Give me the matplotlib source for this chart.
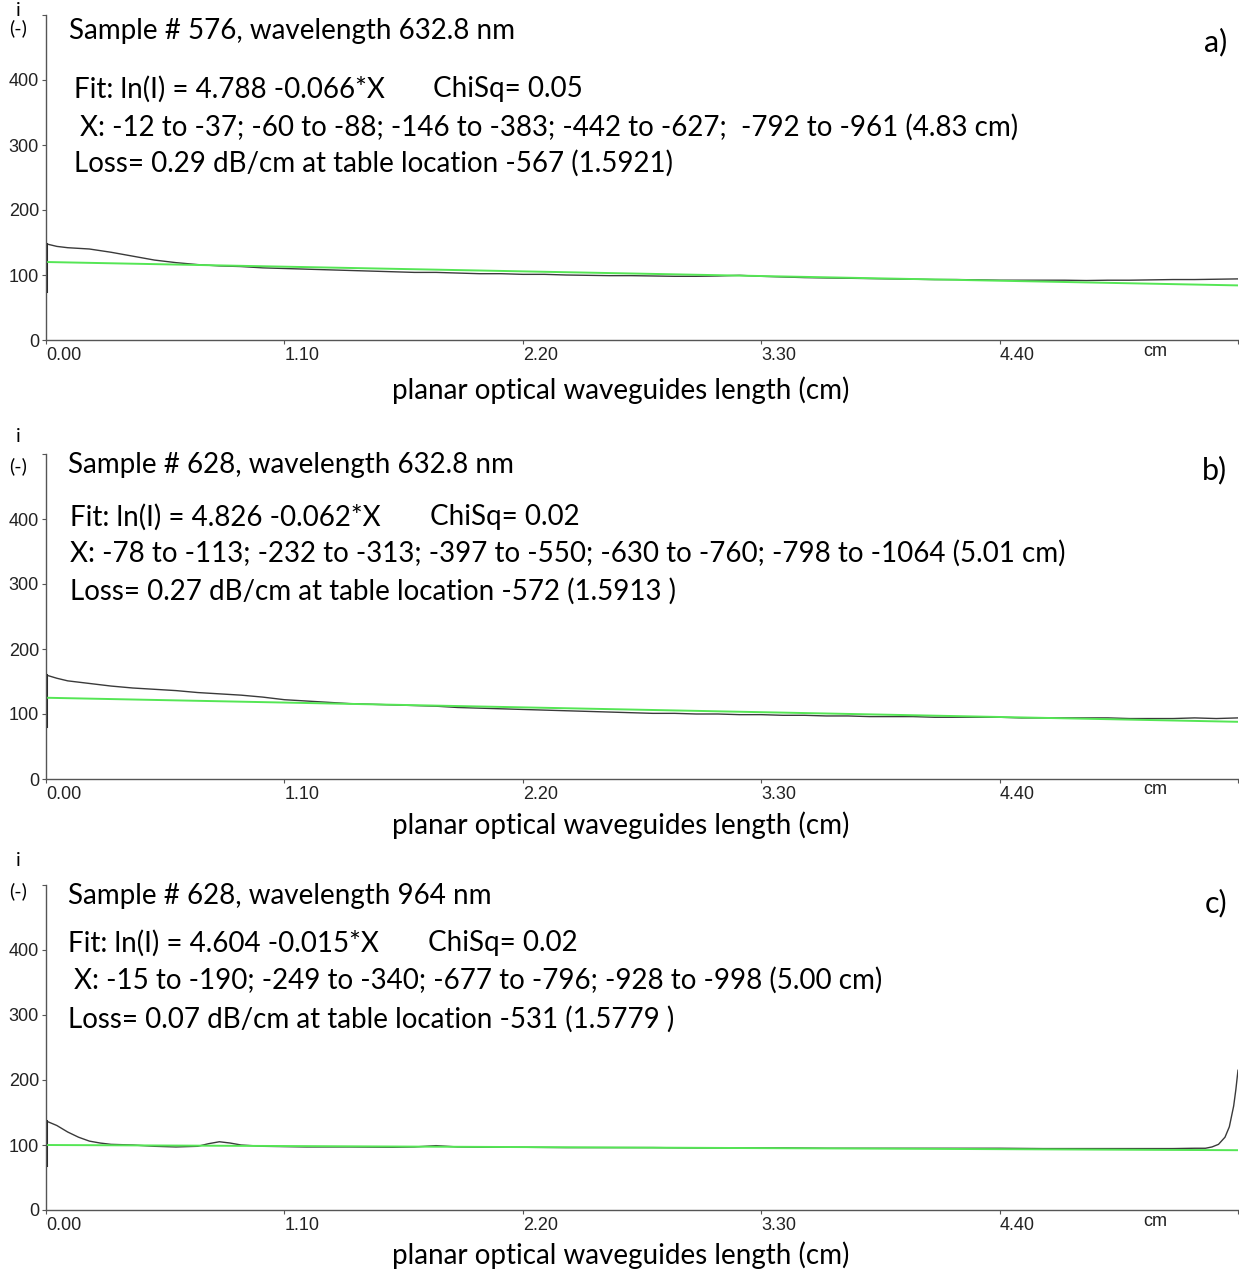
import numpy as np
import matplotlib.pyplot as plt

W, H = 1239, 1272

# x positions along the waveguide (cm) and measured intensity (black trace)
xa = [0, 0.05, 0.1, 0.2, 0.3, 0.4, 0.5, 0.6, 0.7, 0.8, 0.9, 1.0, 1.1, 1.2, 1.3, 1.4, 1.5, 1.6, 1.7, 1.8,
      1.9, 2.0, 2.1, 2.2, 2.3, 2.4, 2.5, 2.6, 2.7, 2.8, 2.9, 3.0, 3.1, 3.2, 3.3, 3.4, 3.5, 3.6, 3.7, 3.8,
      3.9, 4.0, 4.1, 4.2, 4.3, 4.4, 4.5, 4.6, 4.7, 4.8, 4.9, 5.0, 5.1, 5.2, 5.3, 5.4, 5.5]
ya = [148, 144, 142, 140, 135, 129, 123, 119, 116, 114, 113, 111, 110, 109, 108, 107, 106, 105, 104, 104,
      103, 102, 102, 101, 101, 100, 99.5, 99, 99, 98.5, 98, 98, 98.5, 99.5, 98, 97, 96, 95.5, 95, 94.5,
      94, 93.5, 93, 93, 92.5, 92, 92, 92, 92, 91.5, 92, 92, 92.5, 93, 93, 93.5, 94]

xb = xa
yb = [160, 155, 151, 147, 143, 140, 138, 136, 133, 131, 129, 126, 122, 120, 118, 116, 115, 114, 113, 112,
      110, 109, 108, 107, 106, 105, 104, 103, 102, 101, 101, 100, 100, 99, 99, 98, 98, 97, 97, 96,
      96, 96, 95, 95, 95, 95, 94, 94, 94, 94, 94, 93, 93, 93, 94, 93, 94]

xc = [0, 0.05, 0.1, 0.15, 0.2, 0.25, 0.3, 0.4, 0.5, 0.6, 0.7, 0.75, 0.8, 0.85, 0.9, 1.0, 1.2, 1.4, 1.6, 1.7,
      1.8, 1.9, 2.0, 2.2, 2.4, 2.6, 2.8, 3.0, 3.2, 3.4, 3.6, 3.8, 4.0, 4.2, 4.4, 4.6, 4.8, 5.0, 5.2, 5.3,
      5.35, 5.38, 5.41, 5.44, 5.46, 5.48, 5.49, 5.5]
yc = [137, 130, 120, 112, 106, 103, 101, 100, 98, 97, 98, 102, 105, 103, 100, 98, 97, 97, 96.5, 97,
      99, 97, 96.5, 96.5, 96, 96, 96, 95.5, 95.5, 95.5, 95, 95, 95, 95, 95, 94.5, 94.5, 94.5, 94.5, 95,
      95, 97, 101, 112, 128, 160, 185, 215]

# low end of the vertical stroke at x = 0
start_low = [75, 82, 70]

# fit lines (green), values at both ends
fit_x = [0, 5.5]
fit_a = [120, 84]
fit_b = [125, 88]
fit_c = [100, 92]

xticks = [0, 1.1, 2.2, 3.3, 4.4, 5.5]
xticklabels = ['0.00', '1.10', '2.20', '3.30', '4.40', '']
yticks = [0, 100, 200, 300, 400, 500]
yticklabels = ['0', '100', '200', '300', '400', '']

titles = ['Sample # 576, wavelength 632.8 nm',
          'Sample # 628, wavelength 632.8 nm',
          'Sample # 628, wavelength 964 nm']
fits = ['Fit: ln(I) = 4.788 -0.066*X', 'Fit: ln(I) = 4.826 -0.062*X', 'Fit: ln(I) = 4.604 -0.015*X']
chisq = ['ChiSq= 0.05', 'ChiSq= 0.02', 'ChiSq= 0.02']
ranges = ['X: -12 to -37; -60 to -88; -146 to -383; -442 to -627;  -792 to -961 (4.83 cm)',
          'X: -78 to -113; -232 to -313; -397 to -550; -630 to -760; -798 to -1064 (5.01 cm)',
          'X: -15 to -190; -249 to -340; -677 to -796; -928 to -998 (5.00 cm)']
losses = ['Loss= 0.29 dB/cm at table location -567 (1.5921)',
          'Loss= 0.27 dB/cm at table location -572 (1.5913 )',
          'Loss= 0.07 dB/cm at table location -531 (1.5779 )']
panel_tags = ['a)', 'b)', 'c)']
xlabel = 'planar optical waveguides length (cm)'

series_x = [xa, xb, xc]
series_y = [ya, yb, yc]
series_fit = [fit_a, fit_b, fit_c]

# pixel layout of each panel (axis zero line, text rows)
bottom_px = [340, 779, 1210]
title_px = [(69, 31), (68, 465), (68, 896)]
fit_px = [(74, 89), (70, 517), (68, 943)]
chi_px = [433, 430, 428]
range_px = [(80, 127), (70, 553), (74, 980)]
loss_px = [(74, 163), (70, 591), (68, 1019)]
tag_py = [42, 470, 903]
xlab_py = [390, 825, 1255]
ilab_py = [(11, 28), (437, 466), (860, 891)]

txt_font = ['Lato', 'DejaVu Sans']
tick_font = 'Liberation Sans'
tsize = 20


def fx(px):
    return px / W


def fy(py):
    return 1 - py / H


fig = plt.figure(figsize=(W / 100, H / 100), dpi=100)

for k in range(3):
    b = bottom_px[k]
    ax = fig.add_axes([fx(46), fy(b), 1192 / W, 325 / H])
    ax.plot(series_x[k], series_y[k], color='#3a3a3a', lw=1.0)
    ax.plot([0, 0], [start_low[k], series_y[k][0]], color='#222222', lw=2.2)
    ax.plot(fit_x, series_fit[k], color='#55e655', lw=1.4)

    ax.set_xlim(0, 5.5)
    ax.set_ylim(0, 500)
    ax.set_xticks(xticks)
    ax.set_xticklabels(xticklabels, fontfamily=tick_font, fontsize=13)
    ax.set_yticks(yticks)
    ax.set_yticklabels(yticklabels, fontfamily=tick_font, fontsize=13)
    for lab in ax.get_xticklabels():
        lab.set_horizontalalignment('left')
    ax.tick_params(direction='out', length=3, width=0.8, color='#555555', labelcolor='#222222', pad=2)
    ax.spines['top'].set_visible(False)
    ax.spines['right'].set_visible(False)
    for s in ['left', 'bottom']:
        ax.spines[s].set_color('#555555')
        ax.spines[s].set_linewidth(1.0)

    fig.text(fx(1143), fy(b + 11), 'cm', fontfamily=tick_font, fontsize=13, color='#222222', va='center')
    fig.text(fx(18), fy(ilab_py[k][0]), 'i', family=txt_font, fontsize=14, ha='center', va='center')
    fig.text(fx(18), fy(ilab_py[k][1]), '(-)', family=txt_font, fontsize=14, ha='center', va='center')

    fig.text(fx(title_px[k][0]), fy(title_px[k][1]), titles[k], family=txt_font, fontsize=tsize, va='center')
    fig.text(fx(fit_px[k][0]), fy(fit_px[k][1]), fits[k], family=txt_font, fontsize=tsize, va='center')
    fig.text(fx(chi_px[k]), fy(fit_px[k][1]), chisq[k], family=txt_font, fontsize=tsize, va='center')
    fig.text(fx(range_px[k][0]), fy(range_px[k][1]), ranges[k], family=txt_font, fontsize=tsize, va='center')
    fig.text(fx(loss_px[k][0]), fy(loss_px[k][1]), losses[k], family=txt_font, fontsize=tsize, va='center')
    fig.text(fx(1227), fy(tag_py[k]), panel_tags[k], family=txt_font, fontsize=22, ha='right', va='center')
    fig.text(fx(621), fy(xlab_py[k]), xlabel, family=txt_font, fontsize=tsize, ha='center', va='center')

fig.savefig('out.png', dpi=100, facecolor='white')
